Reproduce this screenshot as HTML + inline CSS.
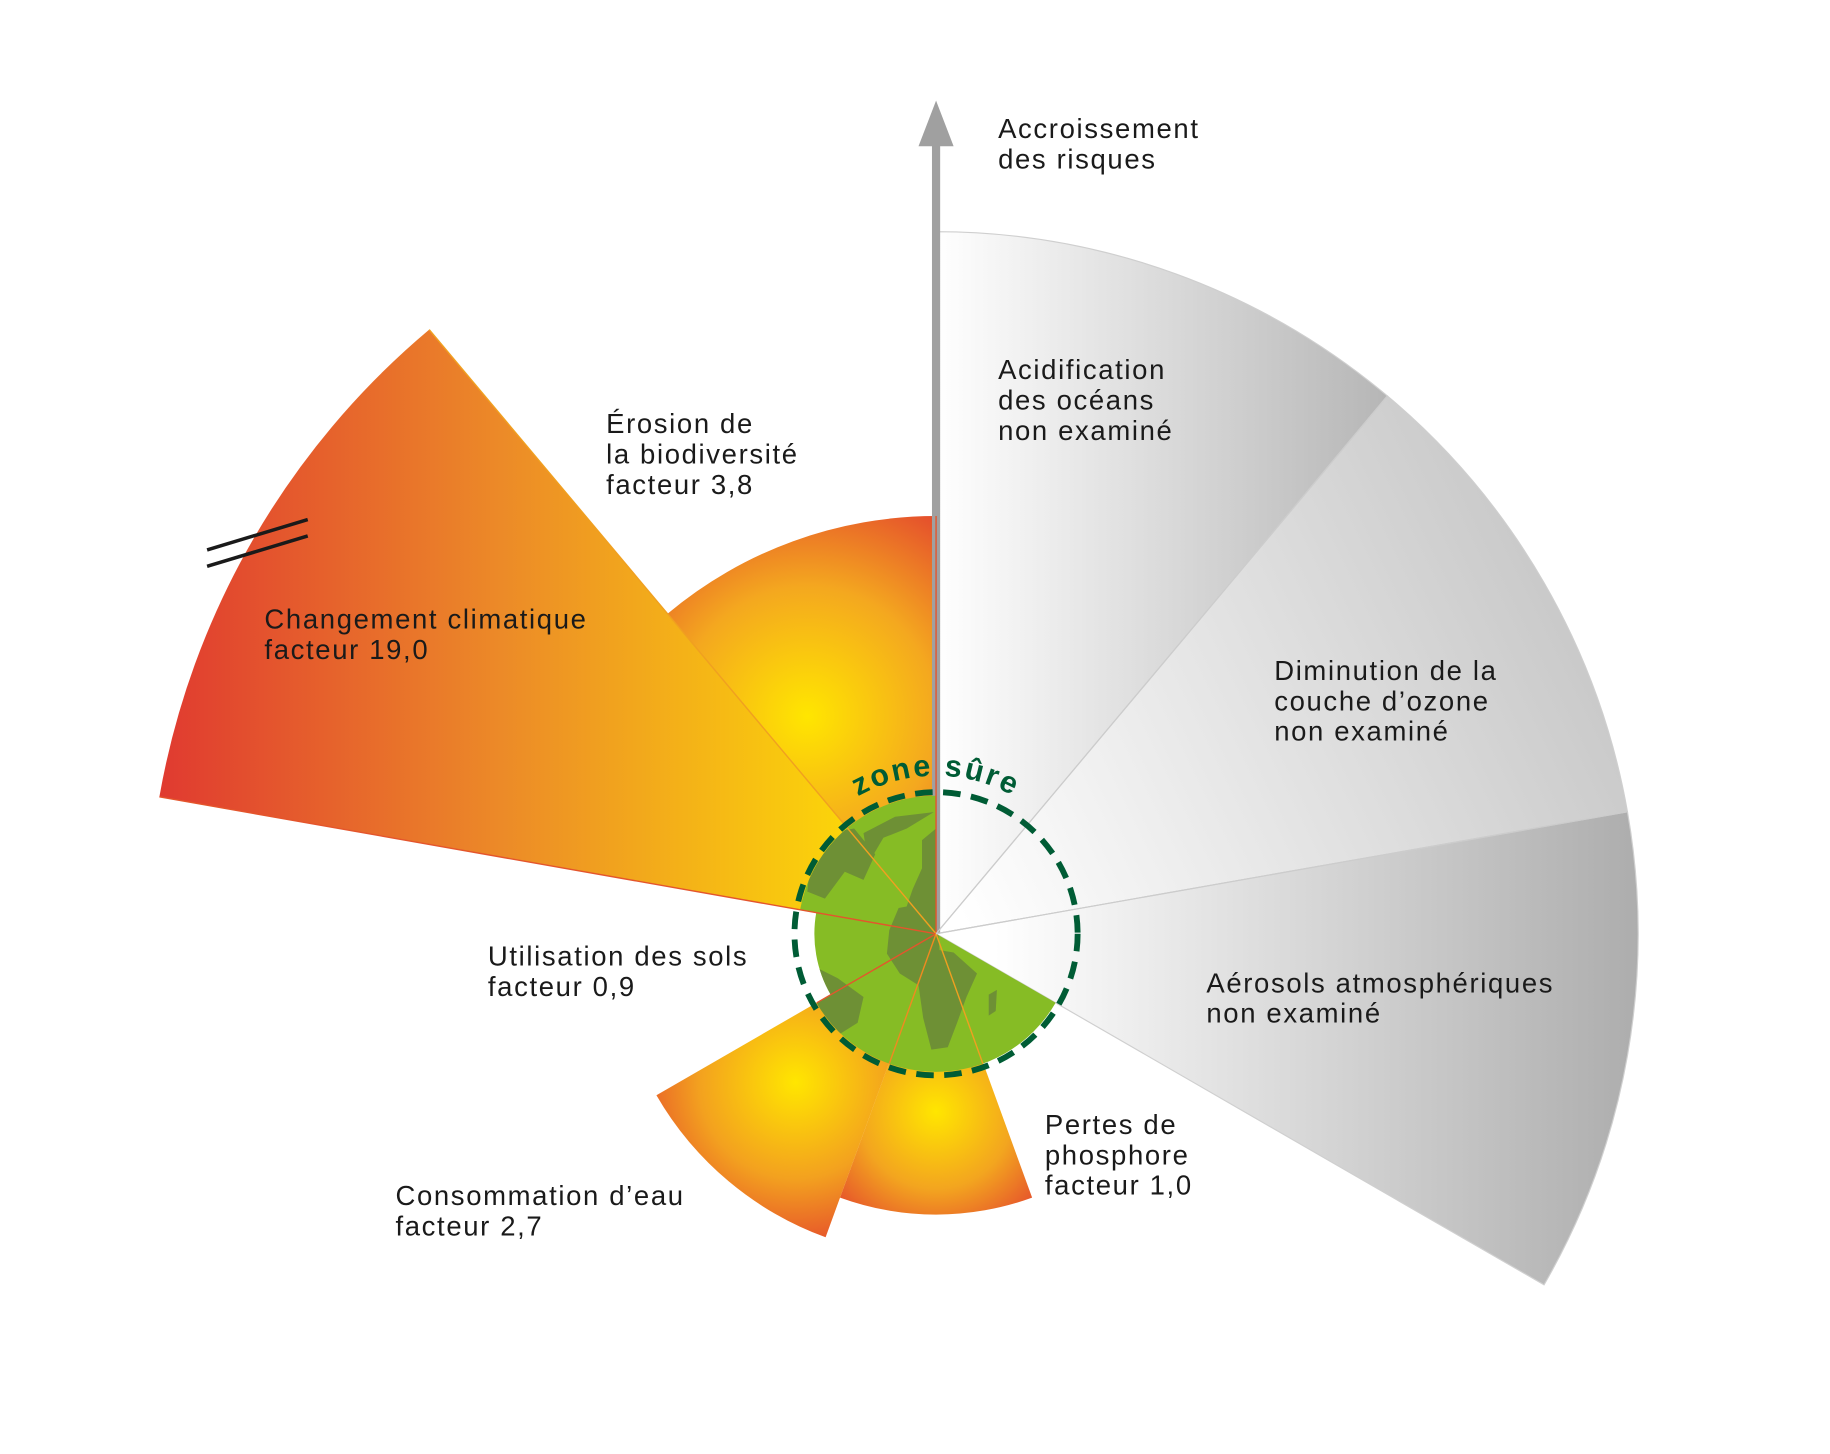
<!DOCTYPE html>
<html><head><meta charset="utf-8"><style>
html,body{margin:0;padding:0;background:#fff;}
svg{display:block;}
text{font-family:"Liberation Sans",sans-serif;}
</style></head><body>
<svg width="1830" height="1454" viewBox="0 0 1564 1242.6" preserveAspectRatio="none" xmlns="http://www.w3.org/2000/svg">
<defs>
<linearGradient id="g1" gradientUnits="userSpaceOnUse" x1="800" y1="0" x2="1190" y2="0"><stop offset="0" stop-color="#ffffff"/><stop offset="1" stop-color="#b5b5b5"/></linearGradient>
<linearGradient id="g2" gradientUnits="userSpaceOnUse" x1="820" y1="780" x2="1390" y2="500"><stop offset="0" stop-color="#ffffff"/><stop offset="1" stop-color="#c4c4c4"/></linearGradient>
<linearGradient id="g3" gradientUnits="userSpaceOnUse" x1="850" y1="0" x2="1400" y2="0"><stop offset="0" stop-color="#ffffff"/><stop offset="1" stop-color="#adadad"/></linearGradient>
<linearGradient id="gc" gradientUnits="userSpaceOnUse" x1="136" y1="0" x2="720" y2="0"><stop offset="0" stop-color="#e03a30"/><stop offset="0.5" stop-color="#ec8a28"/><stop offset="1" stop-color="#fbd40a"/></linearGradient>
<radialGradient id="gb" gradientUnits="userSpaceOnUse" cx="690" cy="612" r="200"><stop offset="0" stop-color="#ffe600"/><stop offset="0.55" stop-color="#f4a81f"/><stop offset="1" stop-color="#e5502c"/></radialGradient>
<radialGradient id="gw" gradientUnits="userSpaceOnUse" cx="680" cy="925" r="150"><stop offset="0" stop-color="#ffe600"/><stop offset="0.55" stop-color="#f3a11f"/><stop offset="1" stop-color="#e4452d"/></radialGradient>
<radialGradient id="gp" gradientUnits="userSpaceOnUse" cx="800" cy="950" r="120"><stop offset="0" stop-color="#ffe600"/><stop offset="0.55" stop-color="#f3a51f"/><stop offset="1" stop-color="#e4472d"/></radialGradient>
<clipPath id="globe"><path d="M800 798 L902.2 857 A118 118 0 0 1 697.8 857 L709.9 850 A104 104 0 0 1 697.6 779.9 L683.8 777.5 A118 118 0 0 1 800 680 Z"/></clipPath>
</defs>

<path d="M800 798 L800 198 A600 600 0 0 1 1185.7 338.4 Z" fill="url(#g1)" stroke="#cfcfcf" stroke-width="1"/>
<path d="M800 798 L1185.7 338.4 A600 600 0 0 1 1390.9 693.8 Z" fill="url(#g2)" stroke="#cfcfcf" stroke-width="1"/>
<path d="M800 798 L1390.9 693.8 A600 600 0 0 1 1319.6 1098 Z" fill="url(#g3)" stroke="#cfcfcf" stroke-width="1"/>

<path d="M800 798 L882.1 1023.5 A240 240 0 0 1 717.9 1023.5 Z" fill="url(#gp)"/>
<path d="M800 798 L705.6 1057.4 A276 276 0 0 1 561 936 Z" fill="url(#gw)"/>
<path d="M800 798 L136.2 681 A674 674 0 0 1 366.8 281.7 Z" fill="url(#gc)"/>
<path d="M800 798 L570.5 524.5 A357 357 0 0 1 800 441 Z" fill="url(#gb)"/>

<rect x="796.5" y="122" width="7" height="676" fill="#a0a0a0"/>
<path d="M800 86 L815 125 L785 125 Z" fill="#a0a0a0"/>

<g clip-path="url(#globe)">
<rect x="680" y="678" width="240" height="240" fill="#86bc25"/>
<g fill="#6e9035">
<path d="M738 712 L765 698 L798 694 L775 708 L755 716 L742 738 Z"/>
<path d="M695 714 L730 708 L748 730 L738 752 L722 745 L705 768 L690 762 Z"/>
<path d="M788 718 L800 708 L800 792 L784 790 L773 780 L780 760 L788 742 Z"/>
<path d="M768 776 L800 770 L803 812 L815 814 L835 832 L826 852 L818 874 L810 895 L796 897 L789 870 L785 842 L769 832 L758 815 L760 795 Z"/>
<path d="M845 850 L852 846 L851 864 L845 868 Z"/>
<path d="M696 826 L716 836 L738 852 L733 874 L714 886 L700 875 Z"/>
</g>
</g>
<g stroke="#e4552c" stroke-width="1.2">
<line x1="800" y1="798" x2="800" y2="441"/>
<line x1="800" y1="798" x2="366.8" y2="281.7" stroke="#f0a020"/>
<line x1="800" y1="798" x2="136.2" y2="681"/>
<line x1="800" y1="798" x2="698" y2="857"/>
<line x1="800" y1="798" x2="760" y2="909" stroke="#f08a20"/>
<line x1="800" y1="798" x2="840" y2="909" stroke="#f0a020"/>
</g>
<g stroke="#cccccc" stroke-width="1">
<line x1="800" y1="798" x2="1185.7" y2="338.4"/>
<line x1="800" y1="798" x2="1390.9" y2="693.8"/>
</g>

<circle cx="800" cy="798" r="121" fill="none" stroke="#005c35" stroke-width="5" stroke-dasharray="15 9"/>
<path id="arc" d="M713.2 694.6 A135 135 0 0 1 886.8 694.6" fill="none"/>
<text font-size="26" font-weight="bold" fill="#005c35" letter-spacing="2"><textPath href="#arc" startOffset="50%" text-anchor="middle">zone sûre</textPath></text>

<g stroke="#1a1a1a" stroke-width="3">
<line x1="177" y1="470" x2="263" y2="444"/>
<line x1="177" y1="484" x2="263" y2="458"/>
</g>

<g font-size="23.5" fill="#1a1a1a" letter-spacing="1.4">
<text x="853" y="118">Accroissement</text><text x="853" y="144">des risques</text>
<text x="853" y="324">Acidification</text><text x="853" y="350">des océans</text><text x="853" y="376">non examiné</text>
<text x="518" y="370">Érosion de</text><text x="518" y="396">la biodiversité</text><text x="518" y="422">facteur 3,8</text>
<text x="1089" y="581">Diminution de la</text><text x="1089" y="607">couche d’ozone</text><text x="1089" y="633">non examiné</text>
<text x="226" y="537">Changement climatique</text><text x="226" y="563">facteur 19,0</text>
<text x="417" y="825">Utilisation des sols</text><text x="417" y="851">facteur 0,9</text>
<text x="1031" y="848">Aérosols atmosphériques</text><text x="1031" y="874">non examiné</text>
<text x="893" y="969">Pertes de</text><text x="893" y="995">phosphore</text><text x="893" y="1021">facteur 1,0</text>
<text x="338" y="1030">Consommation d’eau</text><text x="338" y="1056">facteur 2,7</text>
</g>
</svg>
</body></html>
